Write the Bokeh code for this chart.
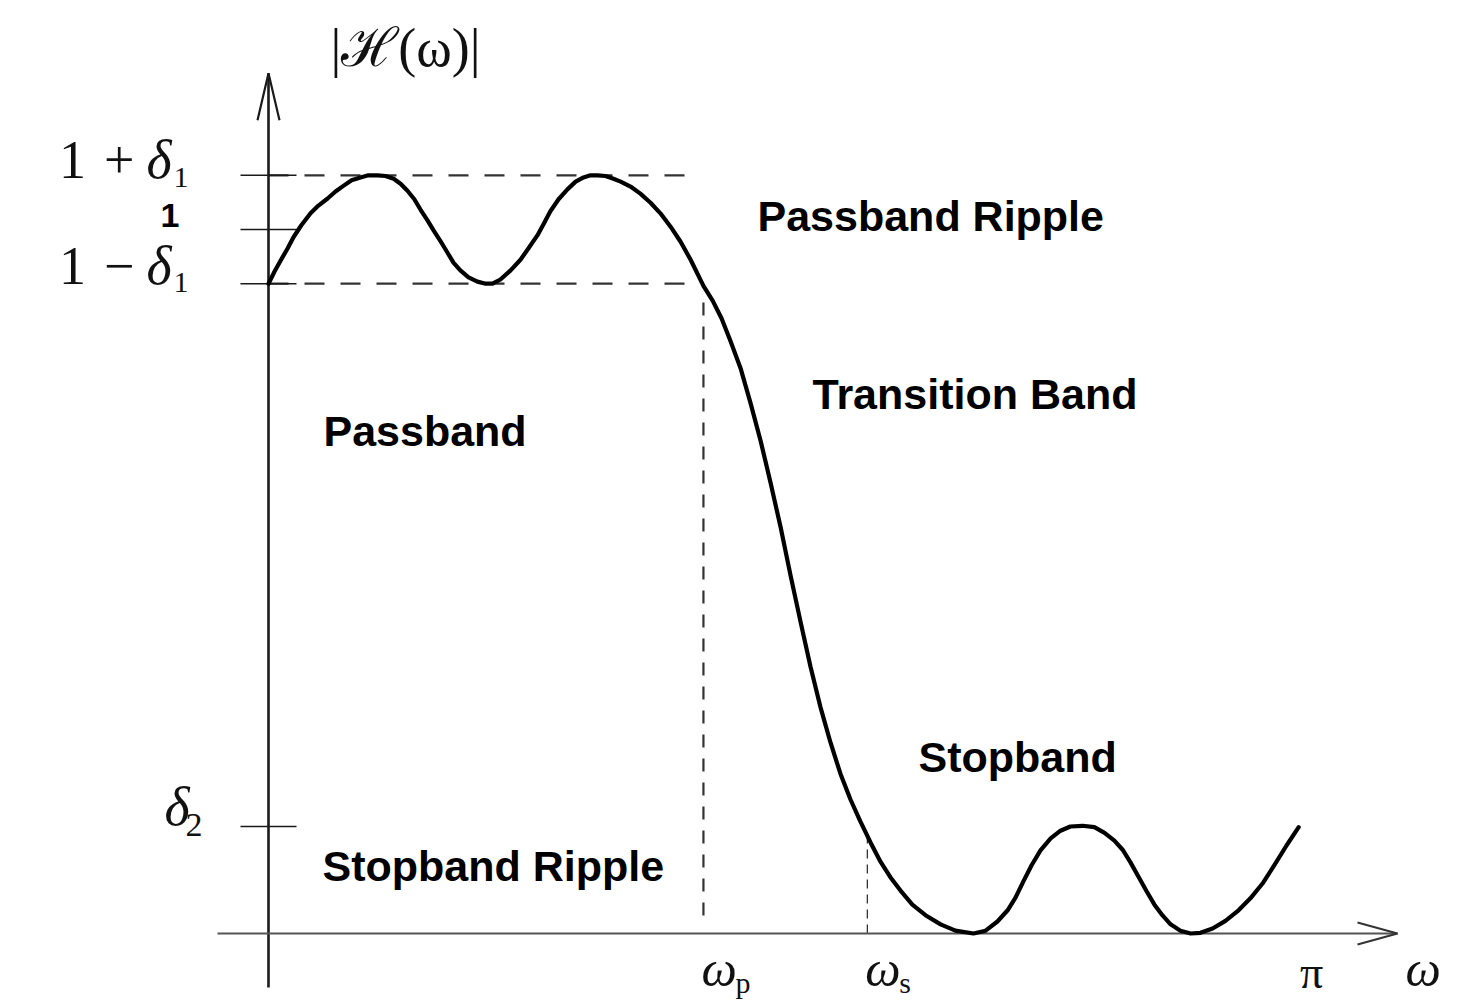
from bokeh.plotting import figure
from bokeh.models import Range1d
from bokeh.core.properties import value
from bokeh.embed import file_html
from bokeh.resources import INLINE

# ---- data (omega in rad, |H(omega)|) ----
omega = [0.000, 0.018, 0.037, 0.058, 0.076, 0.100, 0.128, 0.152, 0.180, 0.204,
         0.228, 0.253, 0.280, 0.304, 0.332, 0.356, 0.381, 0.402, 0.423, 0.444,
         0.463, 0.484, 0.502, 0.524, 0.545, 0.563, 0.584, 0.609, 0.636, 0.661,
         0.682, 0.706, 0.737, 0.767, 0.791, 0.819, 0.840, 0.858, 0.883, 0.910,
         0.935, 0.959, 0.980, 1.002, 1.026, 1.050, 1.072, 1.102, 1.132, 1.163,
         1.193, 1.224, 1.254, 1.285,
         1.324, 1.352, 1.379, 1.406, 1.437, 1.467, 1.498, 1.528, 1.559, 1.589,
         1.620, 1.650, 1.680, 1.711, 1.741, 1.772, 1.802, 1.833, 1.863, 1.893,
         1.924, 1.960, 2.000, 2.046, 2.091, 2.146,
         2.183, 2.219, 2.250, 2.274, 2.298, 2.323, 2.350, 2.381, 2.411, 2.441,
         2.478, 2.514, 2.545, 2.575, 2.600, 2.624, 2.648, 2.673, 2.697, 2.721,
         2.746, 2.776, 2.807, 2.837, 2.874, 2.913, 2.953, 2.989, 3.026, 3.062,
         3.099, 3.136]
magnitude = [0.923, 0.940, 0.956, 0.973, 0.989, 1.006, 1.023, 1.034, 1.044, 1.054,
             1.062, 1.070, 1.074, 1.077, 1.077, 1.076, 1.072, 1.065, 1.055, 1.043,
             1.028, 1.013, 0.999, 0.983, 0.967, 0.953, 0.942, 0.932, 0.926, 0.923,
             0.923, 0.929, 0.942, 0.957, 0.973, 0.992, 1.010, 1.026, 1.043, 1.057,
             1.068, 1.074, 1.077, 1.077, 1.076, 1.072, 1.068, 1.061, 1.051, 1.038,
             1.023, 1.004, 0.983, 0.957,
             0.920, 0.899, 0.874, 0.842, 0.803, 0.754, 0.700, 0.641, 0.577, 0.509,
             0.442, 0.379, 0.322, 0.271, 0.227, 0.190, 0.159, 0.129, 0.102, 0.080,
             0.061, 0.041, 0.026, 0.013, 0.004, 0.000,
             0.004, 0.017, 0.033, 0.051, 0.074, 0.097, 0.118, 0.135, 0.146, 0.152,
             0.153, 0.151, 0.143, 0.132, 0.119, 0.101, 0.081, 0.060, 0.041, 0.026,
             0.013, 0.004, 0.000, 0.001, 0.007, 0.018, 0.033, 0.050, 0.071, 0.097,
             0.125, 0.151]

delta1 = 0.077
delta2 = 0.152
omega_p = 1.324
omega_s = 1.823
pi_val = 3.1416

band_labels = ["Passband Ripple", "Transition Band", "Passband", "Stopband", "Stopband Ripple"]
band_x = [1.4886, 1.6560, 0.1674, 1.9787, 0.1644]
band_y = [1.0185, 0.7670, 0.7131, 0.2514, 0.0952]

# ---- geometry ----
W, H = 1472, 1000
KX, KY = 328.5, 704.0           # pixels per data unit
X0 = -268 / KX
X1 = X0 + W / KX
Y1 = 933 / KY
Y0 = Y1 - H / KY
px = 1.0 / KX
py = 1.0 / KY

p = figure(width=W, height=H, x_range=Range1d(X0, X1), y_range=Range1d(Y0, Y1),
           output_backend="svg", toolbar_location=None, min_border=0,
           x_axis_location=None, y_axis_location=None)
p.outline_line_color = None
p.grid.grid_line_color = None
p.background_fill_color = "white"
p.border_fill_color = "white"

dash_col = "#333333"
axis_col = "#1a1a1a"

# horizontal dashed ripple bounds
hx_end = omega_p - 18 * px
for lvl in [1 + delta1, 1 - delta1]:
    p.line([0, hx_end], [lvl, lvl], line_color=dash_col, line_width=2.2, line_dash="20 16")

# tick marks on y axis
ticks = [1 + delta1, 1.0, 1 - delta1, delta2]
p.segment(x0=[-28 * px] * 4, y0=ticks, x1=[28 * px] * 4, y1=ticks,
          line_color=axis_col, line_width=1.6)

# vertical dashed at omega_p and omega_s
p.line([omega_p, omega_p], [18 * py, 1 - delta1 - 8 * py], line_color=dash_col,
       line_width=2.2, line_dash="13 11")
p.line([omega_s, omega_s], [0, delta2 - 9 * py], line_color=dash_col,
       line_width=1.3, line_dash="9 6")

# axes
y_top = 1 + delta1 + 102 * py
y_bot = -54 * py
x_left = -51 * px
x_right = 1129 * px
p.line([0, 0], [y_bot, y_top], line_color=axis_col, line_width=2.6)
p.line([x_left, x_right], [0, 0], line_color="#555555", line_width=1.8)
# arrowheads
p.line([-11 * px, 0, 11 * px], [y_top - 47 * py, y_top, y_top - 47 * py],
       line_color=axis_col, line_width=2.2)
p.line([x_right - 40 * px, x_right, x_right - 40 * px], [11 * py, 0, -11 * py],
       line_color="#333333", line_width=2.0)

# response curve
p.line(omega, magnitude, line_color="black", line_width=4.2, line_join="round", line_cap="round")

serif = value("Liberation Serif")
sans = value("Liberation Sans")

# band annotations
p.text(x=band_x, y=band_y, text=band_labels, text_font=sans, text_font_size="43px",
       text_font_style="bold", text_color="black", text_align="left",
       text_baseline="alphabetic")

# y tick labels (math style)
lx_main = -134 * px
lx_delta = -122 * px
lx_sub = -95 * px
p.text(x=[lx_main, lx_main], y=[1 + delta1, 1 - delta1], text=["1\u2004+", "1\u2004\u2212"],
       text_font=serif, text_font_size="54px", text_align="right",
       text_baseline="alphabetic", y_offset=[-15, -18], text_color="#111111")
p.text(x=[lx_delta, lx_delta, -104 * px], y=[1 + delta1, 1 - delta1, delta2],
       text=["\u03b4", "\u03b4", "\u03b4"], text_font=serif, text_font_size="54px",
       text_font_style="italic", text_align="left", text_baseline="alphabetic",
       y_offset=[-15, -18, -19], text_color="#111111")
p.text(x=[lx_sub, lx_sub, -83 * px], y=[1 + delta1, 1 - delta1, delta2],
       text=["1", "1", "2"], text_font=serif, text_font_size=["30px", "30px", "34px"],
       text_align="left", text_baseline="alphabetic", y_offset=[2, -1, -1],
       text_color="#111111")
p.text(x=[-89 * px], y=[1.0], text=["1"], text_font=sans, text_font_size="34px",
       text_font_style="bold", text_align="right", text_baseline="alphabetic",
       y_offset=[-14], text_color="black")

# x labels
p.text(x=[omega_p, omega_s], y=[0, 0], text=["\u03c9", "\u03c9"], text_font=serif,
       text_font_size="50px", text_font_style="italic", text_align="left",
       text_baseline="alphabetic", y_offset=[35, 35], x_offset=[-2, -2],
       text_color="#111111")
p.text(x=[omega_p, omega_s], y=[0, 0], text=["p", "s"], text_font=serif,
       text_font_size="30px", text_align="left", text_baseline="alphabetic",
       y_offset=[49, 49], x_offset=[32, 32], text_color="#111111")
p.text(x=[pi_val], y=[0], text=["\u03c0"], text_font=serif, text_font_size="46px",
       text_align="center", text_baseline="alphabetic", y_offset=[39], x_offset=[11],
       text_color="#111111")
p.text(x=[x_right], y=[0], text=["\u03c9"], text_font=serif, text_font_size="50px",
       text_font_style="italic", text_align="left", text_baseline="alphabetic",
       y_offset=[35], x_offset=[8], text_color="#111111")

# y axis title
p.text(x=[62 * px], y=[y_top], text=["|\u210b(\u03c9)|"], text_font=serif,
       text_font_size="54px", text_align="left", text_baseline="alphabetic",
       y_offset=[-25], text_color="#111111")

open("out.html", "w").write(file_html(p, INLINE))
